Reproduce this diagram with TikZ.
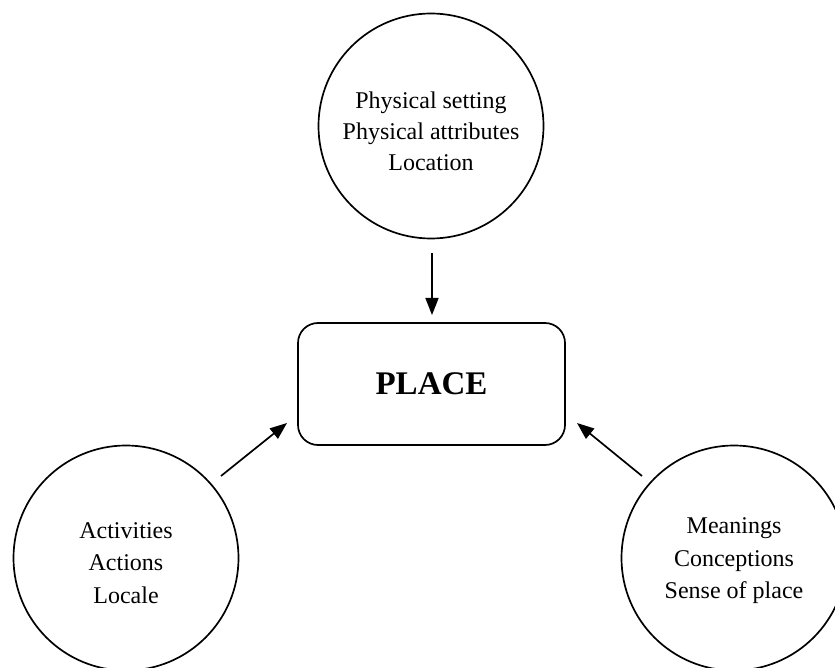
\documentclass[tikz,border=0pt]{standalone}
\usepackage{fontspec}
\setmainfont{Liberation Serif}
\usetikzlibrary{arrows.meta}
\begin{document}
\begin{tikzpicture}[x=1pt,y=-1pt,
  circ/.style={draw, line width=1.7pt, circle, minimum size=225pt, inner sep=0pt, align=center,
    font=\fontsize{24}{32}\selectfont},
  placebox/.style={draw, line width=1.7pt, rounded corners=20pt, minimum width=267pt, minimum height=122pt,
    inner sep=0pt, font=\fontsize{33}{36}\selectfont\bfseries},
  arr/.style={line width=1.7pt, -{Triangle[length=17pt,width=13pt]}}]
\useasboundingbox (0,0) rectangle (835,668);
\node[circ] (phys) at (431,126) {};
\node[align=center, font=\fontsize{24}{31}\selectfont] (physt) at (431,131) {Physical setting\\Physical attributes\\Location};
\node[placebox] (place) at (431.5,384) {PLACE};
\node[circ] (act) at (126,558) {};
\node[align=center, font=\fontsize{24}{32.5}\selectfont] (actt) at (126,563) {Activities\\Actions\\Locale};
\node[circ] (mean) at (734,558) {};
\node[align=center, font=\fontsize{24}{32.5}\selectfont] (meant) at (734,561) {Meanings\\Conceptions\\Sense of place};
\coordinate (t1) at (432,253);
\coordinate (t2) at (432,315);
\coordinate (l1) at (221,476);
\coordinate (l2) at (287,423);
\coordinate (r1) at (642,476);
\coordinate (r2) at (577,423);
\draw[arr] (t1) -- (t2);
\draw[arr] (l1) -- (l2);
\draw[arr] (r1) -- (r2);
\end{tikzpicture}
\end{document}
